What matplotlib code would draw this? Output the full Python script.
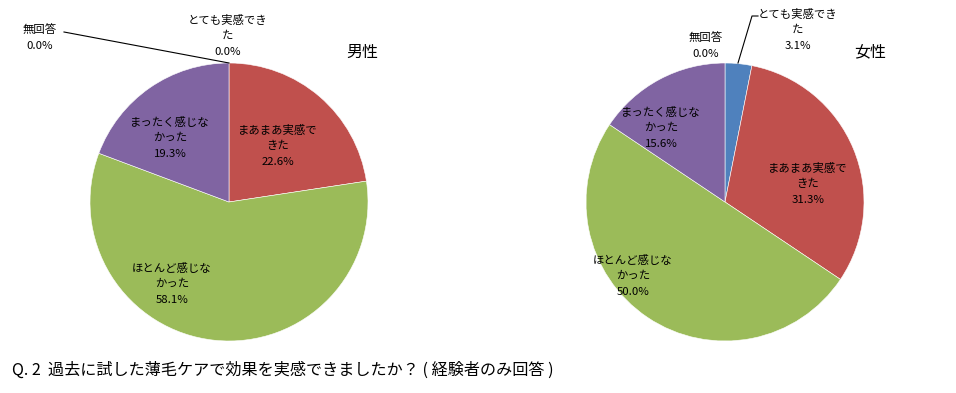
import matplotlib
matplotlib.use("Agg")
import matplotlib.pyplot as plt
from matplotlib.patches import Wedge

plt.rcParams['font.family'] = ['Noto Sans CJK JP', 'DejaVu Sans']

categories = ["とても実感できた", "まあまあ実感できた", "ほとんど感じなかった", "まったく感じなかった", "無回答"]
male_values = [0.0, 22.6, 58.1, 19.3, 0.0]
female_values = [3.1, 31.3, 50.0, 15.6, 0.0]
label_lines = [["とても実感でき", "た"], ["まあまあ実感で", "きた"], ["ほとんど感じな", "かった"],
               ["まったく感じな", "かった"], ["無回答"]]
titles = ["男性", "女性"]
question = "Q. 2  過去に試した薄毛ケアで効果を実感できましたか？ ( 経験者のみ回答 )"

colors = ["#4F81BD", "#C0504D", "#9BBB59", "#8064A2", "#4BACC6"]

W, H = 956, 393
fig = plt.figure(figsize=(W / 100, H / 100), dpi=100)
ax = fig.add_axes([0, 0, 1, 1])
ax.set_xlim(0, W)
ax.set_ylim(H, 0)
ax.axis('off')

# layout (pixel coords, y from top)
centers = [(229, 202), (725, 202)]
radius = 139
label_pos = [
    [(228, 20), (278, 130), (172, 268), (170, 122), (40, 30)],
    [(798, 14), (808, 168), (633, 260), (661, 112), (706, 38)],
]
leaders = [
    [None, None, None, None, [(64, 32), (229, 63)]],
    [[(758, 16), (752, 16), (738, 63)], None, None, None, None],
]
title_pos = [(362, 52), (870, 52)]


def draw_pie(values, cx, cy):
    total = sum(values)
    theta = -90.0  # visual top in y-down axes; increasing angle = clockwise on screen
    for v, c in zip(values, colors):
        sweep = 360.0 * v / total
        if v > 0:
            ax.add_patch(Wedge((cx, cy), radius, theta, theta + sweep, facecolor=c,
                               edgecolor='white', linewidth=0.4))
        theta += sweep


for i, vals in enumerate([male_values, female_values]):
    cx, cy = centers[i]
    draw_pie(vals, cx, cy)
    for j, (lines, v) in enumerate(zip(label_lines, vals)):
        x, y = label_pos[i][j]
        txt = lines + [f"{v:.1f}%"]
        for k, t in enumerate(txt):
            ax.text(x, y + k * 16, t, ha='center', va='center', fontsize=8.2, color='black')
        if leaders[i][j] is not None:
            xs, ys = zip(*leaders[i][j])
            ax.plot(xs, ys, color='black', lw=0.8)
    tx, ty = title_pos[i]
    ax.text(tx, ty, titles[i], ha='center', va='center', fontsize=11.5)

ax.text(12, 370, question, ha='left', va='center', fontsize=11.6)

fig.savefig("out.png", dpi=100)
